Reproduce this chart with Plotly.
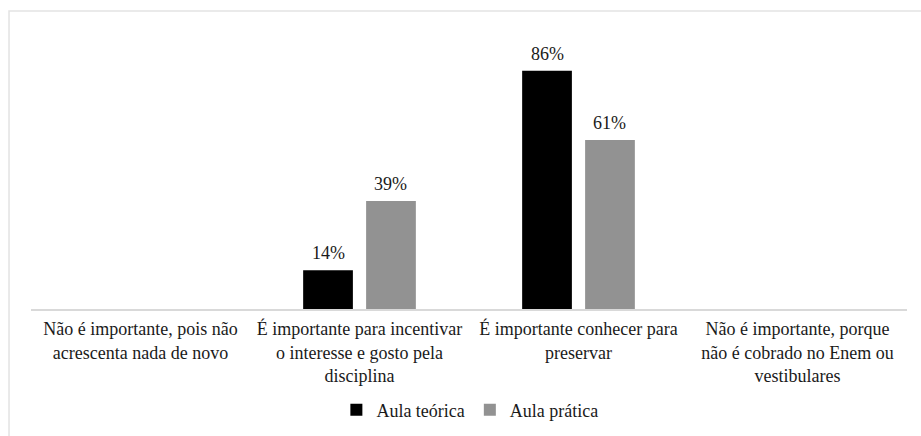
import plotly.graph_objects as go

# Survey responses: share of students per statement, by lesson type
categories = [
    "Não é importante, pois não<br>acrescenta nada de novo",
    "É importante para incentivar<br>o interesse e gosto pela<br>disciplina",
    "É importante conhecer para<br>preservar",
    "Não é importante, porque<br>não é cobrado no Enem ou<br>vestibulares",
]
series_names = ["Aula teórica", "Aula prática"]
aula_teorica = [0.0, 0.14, 0.86, 0.0]
aula_pratica = [0.0, 0.39, 0.61, 0.0]

colors = ["#000000", "#929292"]
serif = "Liberation Serif"
text_color = "#1a1a1a"
font_size = 18

bargap = 0.425
bargroupgap = 0.21

fig = go.Figure()
for name, vals, col in zip(series_names, [aula_teorica, aula_pratica], colors):
    fig.add_trace(go.Bar(
        name=name,
        x=list(range(len(categories))),
        y=vals,
        marker=dict(color=col, line=dict(width=0)),
        hoverinfo="skip",
    ))

# value labels above each non-zero bar, centred on its slot within the group
slot = (1 - bargap) / 2
for k, vals in enumerate([aula_teorica, aula_pratica]):
    offset = (k - 0.5) * slot
    for i, v in enumerate(vals):
        if v > 0:
            fig.add_annotation(
                x=i + offset, y=v, xref="x", yref="y",
                text=f"{round(v * 100)}%", showarrow=False,
                yanchor="bottom", yshift=5,
                font=dict(family=serif, size=font_size, color=text_color),
            )

# light frame around the chart area
fig.add_shape(
    type="rect", xref="paper", yref="paper",
    x0=-0.0251, x1=1.1, y0=-0.6, y1=1.0758,
    line=dict(color="#e3e3e3", width=1.5), fillcolor="rgba(0,0,0,0)",
    layer="below",
)

fig.update_layout(
    width=921, height=436,
    margin=dict(l=31, r=14, t=32, b=127, autoexpand=False),
    paper_bgcolor="white", plot_bgcolor="white",
    barmode="group", bargap=bargap, bargroupgap=bargroupgap,
    showlegend=True,
    legend=dict(
        orientation="h", x=0.501, xanchor="center",
        y=-0.365, yanchor="middle",
        font=dict(family=serif, size=font_size, color=text_color),
        bgcolor="rgba(0,0,0,0)",
    ),
    xaxis=dict(
        tickmode="array", tickvals=list(range(len(categories))), ticktext=categories,
        range=[-0.5, len(categories) - 0.5], automargin=False,
        showline=True, linecolor="#d9d9d9", linewidth=1.5,
        ticks="", showgrid=False, zeroline=False, ticklabelstandoff=3,
        tickfont=dict(family=serif, size=font_size, color=text_color),
        fixedrange=True,
    ),
    yaxis=dict(
        range=[0, 1], visible=False, showgrid=False, zeroline=False,
        fixedrange=True, automargin=False,
    ),
)

fig.write_html("out.html")
